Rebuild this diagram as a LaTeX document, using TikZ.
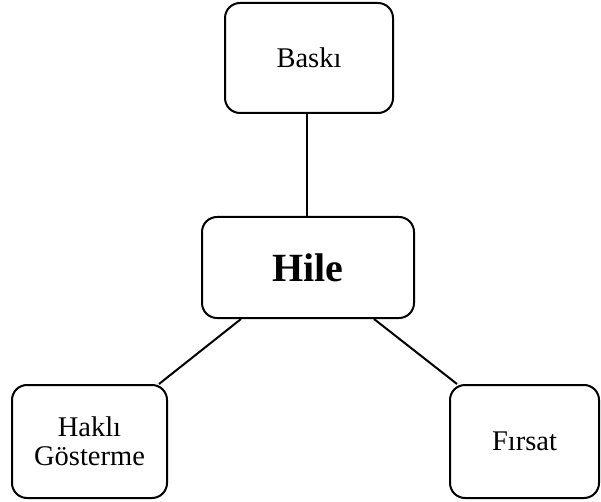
\documentclass[tikz,border=0pt]{standalone}
\usepackage{fontspec}
\setmainfont{Liberation Serif}
\begin{document}
\begin{tikzpicture}[x=1pt,y=-1pt,
  box/.style={draw=black,line width=2pt,rounded corners=15pt,inner sep=0pt,align=center,
    font=\fontsize{28.5}{29}\selectfont},
  conn/.style={draw=black,line width=2pt}]
\useasboundingbox (0,0) rectangle (601,502);
\node[box,minimum width=168pt,minimum height=110pt] (baski) at (309,58) {Baskı};
\node[box,minimum width=212pt,minimum height=101pt,font=\fontsize{40}{44}\selectfont\bfseries] (hile) at (308,267.5) {Hile};
\node[box,minimum width=155pt,minimum height=113pt] (hakli) at (89.5,441.5) {Haklı\\Gösterme};
\node[box,minimum width=149pt,minimum height=113pt] (firsat) at (524.5,441.5) {Fırsat};
\draw[conn] ([xshift=-2pt]baski.south) -- ([xshift=-1pt]hile.north);
\draw[conn] ([xshift=40pt]hile.south west) -- ([xshift=-9pt]hakli.north east);
\draw[conn] ([xshift=-41pt]hile.south east) -- ([xshift=8pt]firsat.north west);
\end{tikzpicture}
\end{document}
